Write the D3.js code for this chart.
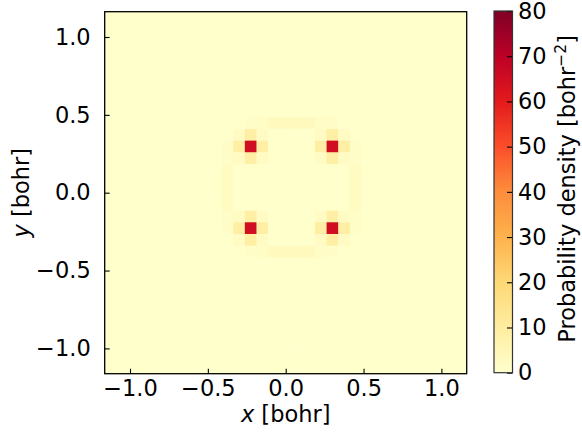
<!DOCTYPE html>
<html lang="en">
<head>
<meta charset="UTF-8">
<title>Probability density</title>
<script src="https://cdn.jsdelivr.net/npm/d3@7/dist/d3.min.js"></script>
<style>
    body { margin: 0; background: #fff; }
    svg text { font-family: "DejaVu Sans", sans-serif; fill: #000; }
</style>
</head>
<body>
<div id="chart"></div>
<script>
const width = 582;
const height = 437;
const plot = { left: 104.7, top: 11.7, size: 362 };
const cbar = { left: 494, top: 11, width: 18.5, height: 361.7 };
const fontSize = 22.5;

// grid cell centres [bohr]
const gridX = [-1.125, -1.05, -0.975, -0.9, -0.825, -0.75, -0.675, -0.6, -0.525, -0.45, -0.375, -0.3, -0.225, -0.15, -0.075,
    0, 0.075, 0.15, 0.225, 0.3, 0.375, 0.45, 0.525, 0.6, 0.675, 0.75, 0.825, 0.9, 0.975, 1.05, 1.125];
const gridY = gridX.slice();
const cellSize = 0.075;

// non-zero cells [x, y, density]; everything else is 0
const peaks = [[-0.225, 0.3, 65], [0.3, 0.3, 65], [-0.225, -0.225, 65], [0.3, -0.225, 65]];
const peakNeighbours = [
    [-0.225, 0.375, 9], [-0.3, 0.3, 9], [-0.15, 0.3, 9], [-0.225, 0.225, 9],
    [0.3, 0.375, 9], [0.225, 0.3, 9], [0.375, 0.3, 9], [0.3, 0.225, 9],
    [-0.225, -0.15, 9], [-0.3, -0.225, 9], [-0.15, -0.225, 9], [-0.225, -0.3, 9],
    [0.3, -0.15, 9], [0.225, -0.225, 9], [0.375, -0.225, 9], [0.3, -0.3, 9]
];
const peakDiagonals = [
    [-0.3, 0.375, 2], [-0.15, 0.375, 2], [-0.3, 0.225, 2], [-0.15, 0.225, 2],
    [0.225, 0.375, 2], [0.375, 0.375, 2], [0.225, 0.225, 2], [0.375, 0.225, 2],
    [-0.3, -0.15, 2], [-0.15, -0.15, 2], [-0.3, -0.3, 2], [-0.15, -0.3, 2],
    [0.225, -0.15, 2], [0.375, -0.15, 2], [0.225, -0.3, 2], [0.375, -0.3, 2],
    [-0.375, 0.3, 1.2], [-0.225, 0.45, 1.2], [0.45, 0.3, 1.2], [0.3, 0.45, 1.2],
    [-0.375, -0.225, 1.2], [-0.225, -0.375, 1.2], [0.45, -0.225, 1.2], [0.3, -0.375, 1.2]
];
const ringCells = [
    [-0.075, 0.45, 3.5], [0, 0.45, 3.5], [0.075, 0.45, 3.5], [0.15, 0.45, 3.5],
    [-0.15, 0.45, 1.5], [0.225, 0.45, 1.5],
    [-0.075, -0.375, 3.5], [0, -0.375, 3.5], [0.075, -0.375, 3.5], [0.15, -0.375, 3.5],
    [-0.15, -0.375, 1.5], [0.225, -0.375, 1.5],
    [-0.375, -0.075, 2.5], [-0.375, 0, 2.5], [-0.375, 0.075, 2.5], [-0.375, 0.15, 2.5],
    [-0.375, 0.225, 1.2], [-0.375, -0.15, 1.2],
    [0.45, -0.075, 2.5], [0.45, 0, 2.5], [0.45, 0.075, 2.5], [0.45, 0.15, 2.5],
    [0.45, 0.225, 1.2], [0.45, -0.15, 1.2]
];

const axisTicks = [-1.0, -0.5, 0.0, 0.5, 1.0];
const cbarTicks = [0, 10, 20, 30, 40, 50, 60, 70, 80];
const vmax = 80;

// matplotlib YlOrRd
const ylOrRd = ["#ffffcc", "#ffeda0", "#fed976", "#feb24c", "#fd8d3c", "#fc4e2a", "#e31a1c", "#bd0026", "#800026"];
const color = d3.scaleLinear()
    .domain(ylOrRd.map((c, i) => i * vmax / (ylOrRd.length - 1)))
    .range(ylOrRd)
    .clamp(true);

const key = (x, y) => Math.round(x * 1000) + ',' + Math.round(y * 1000);
const density = new Map();
[].concat(peaks, peakNeighbours, peakDiagonals, ringCells).forEach(d => density.set(key(d[0], d[1]), d[2]));

const cells = [];
gridY.forEach(y => gridX.forEach(x => {
    cells.push({ x: x, y: y, v: density.get(key(x, y)) || 0 });
}));

const half = gridX[gridX.length - 1] + cellSize / 2;
const x = d3.scaleLinear().domain([-half, half]).range([plot.left, plot.left + plot.size]);
const y = d3.scaleLinear().domain([-half, half]).range([plot.top + plot.size, plot.top]);

const svg = d3.select('#chart').append('svg')
    .attr('width', width)
    .attr('height', height);

// heatmap
const cw = x(cellSize) - x(0);
svg.append('g')
    .selectAll('rect')
    .data(cells).enter()
    .append('rect')
    .attr('x', d => x(d.x - cellSize / 2))
    .attr('y', d => y(d.y + cellSize / 2))
    .attr('width', cw + 0.4)
    .attr('height', cw + 0.4)
    .attr('fill', d => color(d.v));

// axes (ticks pointing inwards)
const fmt = d => d3.format('.1f')(d).replace('-', '\u2212');
const xAxis = d3.axisBottom(x).tickValues(axisTicks).tickFormat(fmt).tickSizeInner(-5).tickSizeOuter(0).tickPadding(6);
const yAxis = d3.axisLeft(y).tickValues(axisTicks).tickFormat(fmt).tickSizeInner(-5).tickSizeOuter(0).tickPadding(14);

const gx = svg.append('g').attr('transform', `translate(0,${plot.top + plot.size})`).call(xAxis);
const gy = svg.append('g').attr('transform', `translate(${plot.left},0)`).call(yAxis);
[gx, gy].forEach(g => {
    g.select('.domain').remove();
    g.selectAll('.tick line').attr('stroke', '#000').attr('stroke-width', 1.1);
    g.selectAll('.tick text').style('font-size', fontSize + 'px').attr('font-family', 'DejaVu Sans');
});

svg.append('rect')
    .attr('x', plot.left).attr('y', plot.top)
    .attr('width', plot.size).attr('height', plot.size)
    .attr('fill', 'none').attr('stroke', '#000').attr('stroke-width', 1.3);

// axis labels
const xl = svg.append('text')
    .attr('x', x(0)).attr('y', 422)
    .attr('text-anchor', 'middle')
    .style('font-size', fontSize + 'px');
xl.append('tspan').attr('font-style', 'italic').text('x');
xl.append('tspan').text(' [bohr]');

const yl = svg.append('text')
    .attr('transform', `translate(29,${y(0)}) rotate(-90)`)
    .attr('text-anchor', 'middle')
    .style('font-size', fontSize + 'px');
yl.append('tspan').attr('font-style', 'italic').text('y');
yl.append('tspan').text(' [bohr]');

// colorbar
const cy = d3.scaleLinear().domain([0, vmax]).range([cbar.top + cbar.height, cbar.top]);
const grad = svg.append('defs').append('linearGradient')
    .attr('id', 'cbgrad')
    .attr('x1', 0).attr('y1', 1).attr('x2', 0).attr('y2', 0);
grad.selectAll('stop')
    .data(color.domain()).enter()
    .append('stop')
    .attr('offset', d => d / vmax)
    .attr('stop-color', d => color(d));

svg.append('rect')
    .attr('x', cbar.left).attr('y', cbar.top)
    .attr('width', cbar.width).attr('height', cbar.height)
    .attr('fill', 'url(#cbgrad)');

const cAxis = d3.axisRight(cy).tickValues(cbarTicks).tickFormat(d3.format('d')).tickSizeInner(-5.5).tickSizeOuter(0).tickPadding(5.5);
const gc = svg.append('g').attr('transform', `translate(${cbar.left + cbar.width},0)`).call(cAxis);
gc.select('.domain').remove();
gc.selectAll('.tick line').attr('stroke', '#000').attr('stroke-width', 1.1);
gc.selectAll('.tick text').style('font-size', fontSize + 'px').attr('font-family', 'DejaVu Sans');

svg.append('rect')
    .attr('x', cbar.left).attr('y', cbar.top)
    .attr('width', cbar.width).attr('height', cbar.height)
    .attr('fill', 'none').attr('stroke', '#333').attr('stroke-width', 1.2);

const cl = svg.append('text')
    .attr('transform', `translate(575.4,${cbar.top + cbar.height / 2 - 3}) rotate(-90)`)
    .attr('text-anchor', 'middle')
    .style('font-size', fontSize + 'px');
cl.append('tspan').text('Probability density [bohr');
cl.append('tspan').attr('dy', -9).style('font-size', '15.5px').text('\u22122');
cl.append('tspan').attr('dy', 9).text(']');
</script>
</body>
</html>
